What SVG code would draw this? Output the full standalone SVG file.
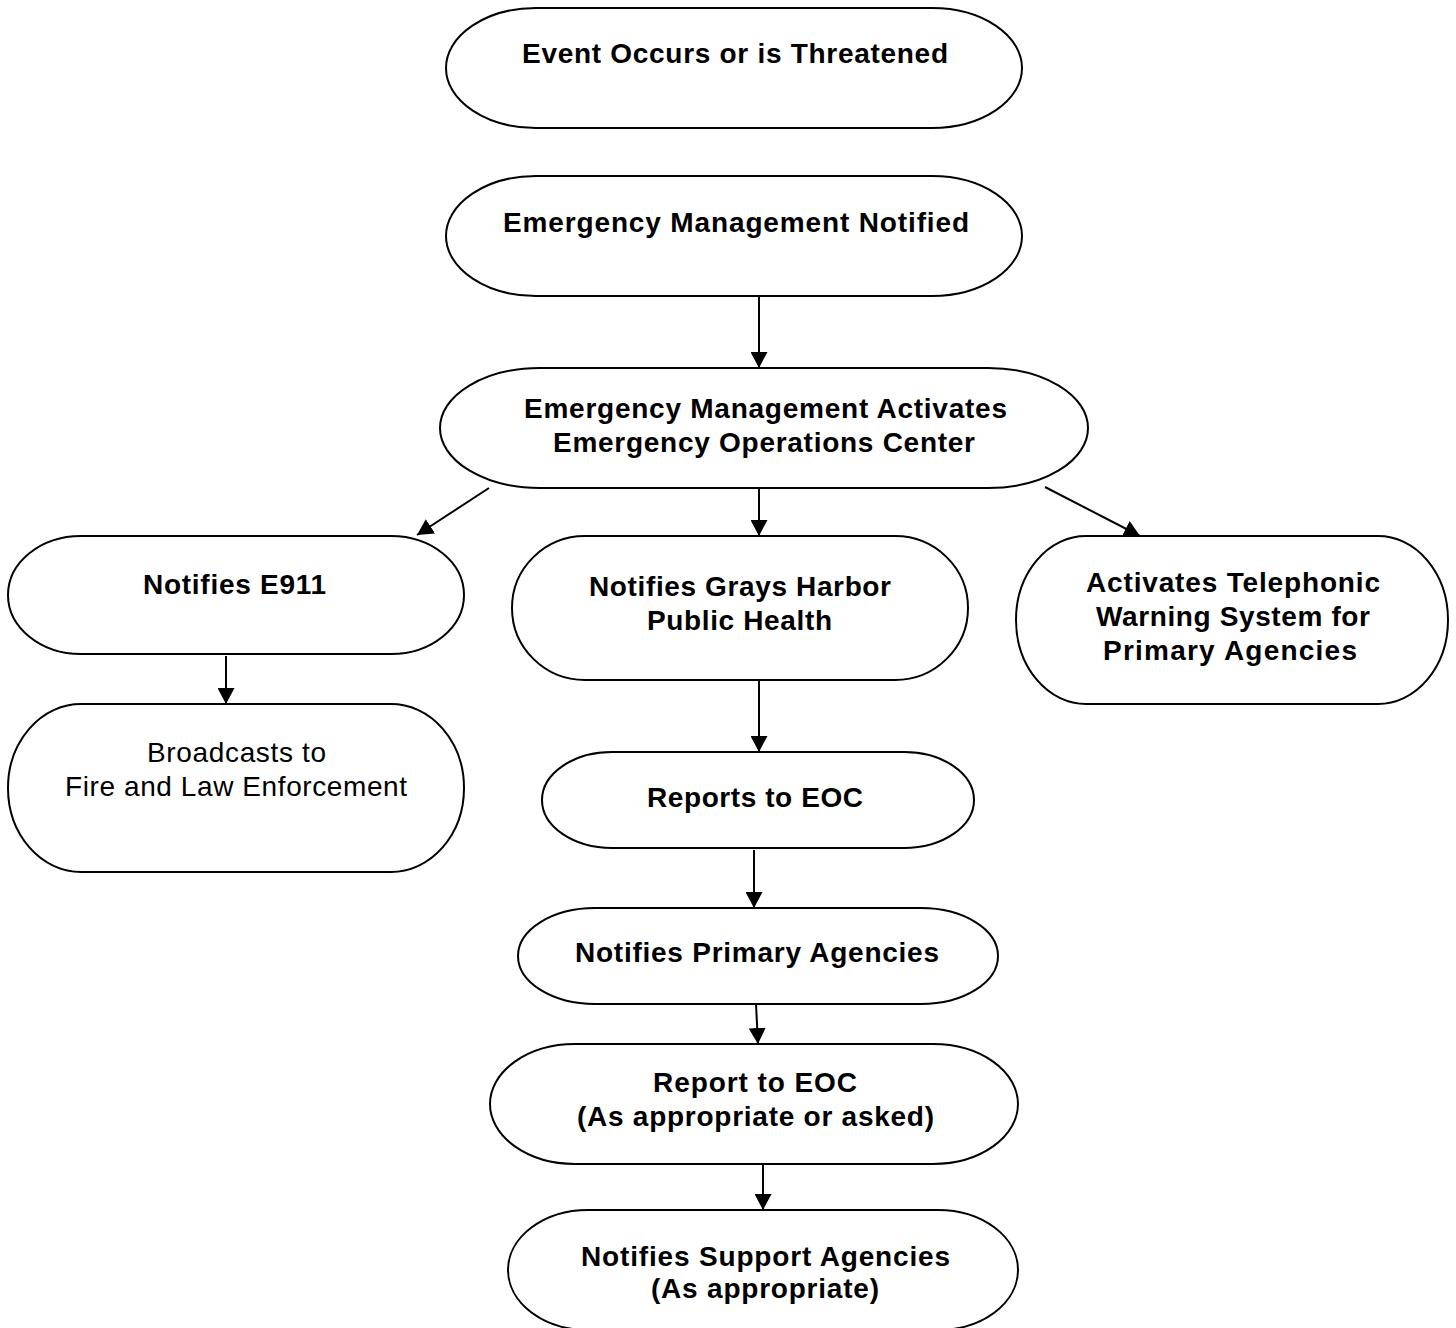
<svg xmlns="http://www.w3.org/2000/svg" width="1456" height="1328" viewBox="0 0 1456 1328">
<style>
.node{fill:#fff;stroke:#000;stroke-width:2}
.t{font-family:"Liberation Sans",Arial,sans-serif;font-size:28px;font-weight:bold;fill:#000;text-anchor:middle}
.r{font-family:"Liberation Sans",Arial,sans-serif;font-size:28px;font-weight:normal;fill:#000;text-anchor:middle}
.edge{stroke:#000;stroke-width:2;fill:none;marker-end:url(#ah)}
</style>
<defs>
<marker id="ah" markerUnits="userSpaceOnUse" markerWidth="17" markerHeight="17" refX="16" refY="8.5" orient="auto">
<path d="M0,0 L16,8.5 L0,17 z" fill="#000"/>
</marker>
<clipPath id="clipBottom"><rect x="0" y="0" width="1456" height="1304"/></clipPath>
</defs>
<rect width="1456" height="1328" fill="#fff"/>
<g id="connectors">
<line class="edge" x1="759" y1="296" x2="759" y2="368"/>
<line class="edge" x1="489" y1="488" x2="417" y2="535"/>
<line class="edge" x1="759" y1="488" x2="759" y2="536"/>
<line class="edge" x1="1045" y1="487" x2="1140" y2="536"/>
<line class="edge" x1="226" y1="656" x2="226" y2="704"/>
<line class="edge" x1="759" y1="680" x2="759" y2="752"/>
<line class="edge" x1="754" y1="850" x2="754" y2="908"/>
<line class="edge" x1="756" y1="1004" x2="758" y2="1044"/>
<line class="edge" x1="763" y1="1164" x2="763" y2="1210"/>
</g>
<g id="n1">
<rect class="node" x="446" y="8" width="576" height="120" rx="90" ry="60"/>
<text class="t" x="735" y="63" textLength="426" lengthAdjust="spacing">Event Occurs or is Threatened</text>
</g>
<g id="n2">
<rect class="node" x="446" y="176" width="576" height="120" rx="90" ry="60"/>
<text class="t" x="736" y="232" textLength="466" lengthAdjust="spacing">Emergency Management Notified</text>
</g>
<g id="n3">
<rect class="node" x="440" y="368" width="648" height="120" rx="100" ry="60"/>
<text class="t" x="765.5" y="418" textLength="483" lengthAdjust="spacing">Emergency Management Activates</text>
<text class="t" x="764" y="452" textLength="422" lengthAdjust="spacing">Emergency Operations Center</text>
</g>
<g id="n4">
<rect class="node" x="8" y="536" width="456" height="118" rx="73" ry="59"/>
<text class="t" x="234.5" y="594" textLength="183" lengthAdjust="spacing">Notifies E911</text>
</g>
<g id="n5">
<rect class="node" x="512" y="536" width="456" height="144" rx="73" ry="72"/>
<text class="t" x="740" y="596" textLength="302" lengthAdjust="spacing">Notifies Grays Harbor</text>
<text class="t" x="739.5" y="630" textLength="185" lengthAdjust="spacing">Public Health</text>
</g>
<g id="n6">
<rect class="node" x="1016" y="536" width="432" height="168" rx="70" ry="84"/>
<text class="t" x="1233" y="592" textLength="294" lengthAdjust="spacing">Activates Telephonic</text>
<text class="t" x="1233" y="626" textLength="274" lengthAdjust="spacing">Warning System for</text>
<text class="t" x="1230" y="660" textLength="254" lengthAdjust="spacing">Primary  Agencies</text>
</g>
<g id="n7">
<rect class="node" x="8" y="704" width="456" height="168" rx="73" ry="84"/>
<text class="r" x="236.5" y="762" textLength="179" lengthAdjust="spacing">Broadcasts to</text>
<text class="r" x="236" y="796" textLength="342" lengthAdjust="spacing">Fire and Law Enforcement</text>
</g>
<g id="n8">
<rect class="node" x="542" y="752" width="432" height="96" rx="70" ry="48"/>
<text class="t" x="755" y="807" textLength="216" lengthAdjust="spacing">Reports to EOC</text>
</g>
<g id="n9">
<rect class="node" x="518" y="908" width="480" height="96" rx="77" ry="48"/>
<text class="t" x="757" y="962" textLength="364" lengthAdjust="spacing">Notifies Primary  Agencies</text>
</g>
<g id="n10">
<rect class="node" x="490" y="1044" width="528" height="120" rx="85" ry="60"/>
<text class="t" x="755" y="1092" textLength="204" lengthAdjust="spacing">Report to EOC</text>
<text class="t" x="755.5" y="1126" textLength="357" lengthAdjust="spacing">(As appropriate or asked)</text>
</g>
<g id="n11">
<rect class="node" x="508" y="1210" width="510" height="120" rx="80" ry="60"/>
<text class="t" x="765.5" y="1266" textLength="369" lengthAdjust="spacing">Notifies Support Agencies</text>
<text class="t" x="765" y="1298" textLength="228" lengthAdjust="spacing" clip-path="url(#clipBottom)">(As appropriate)</text>
</g>
</svg>
